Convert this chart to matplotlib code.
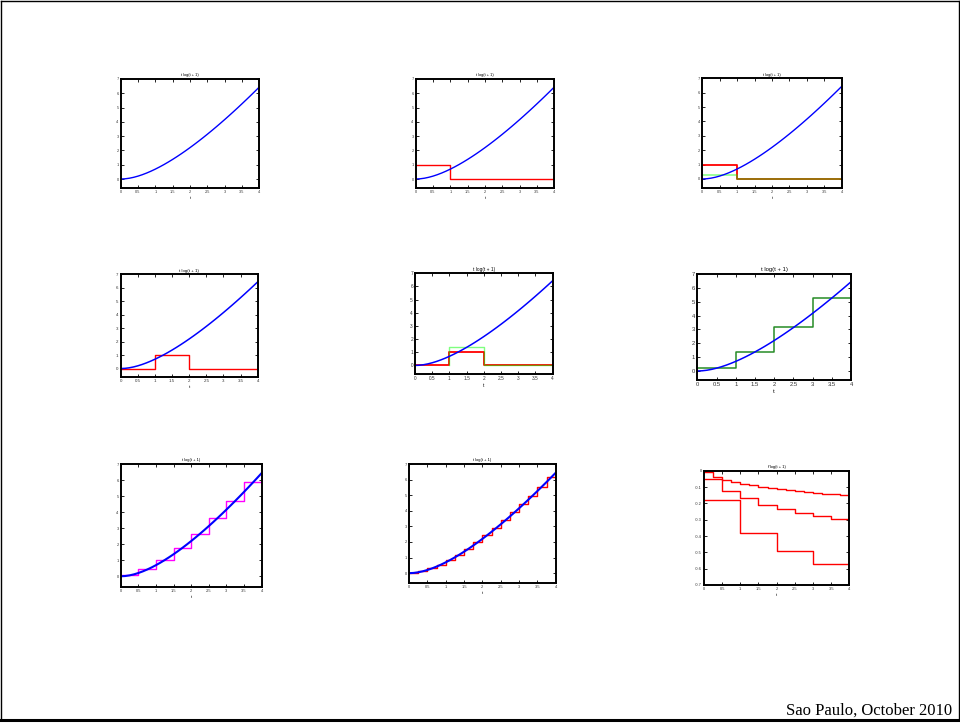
import matplotlib
matplotlib.use("Agg")
import matplotlib.pyplot as plt
from matplotlib.lines import Line2D

# ---------------- data ----------------
curve_t = [0, 0.125, 0.25, 0.375, 0.5, 0.625, 0.75, 0.875, 1, 1.125, 1.25, 1.375,
           1.5, 1.625, 1.75, 1.875, 2, 2.125, 2.25, 2.375, 2.5, 2.625, 2.75, 2.875,
           3, 3.125, 3.25, 3.375, 3.5, 3.625, 3.75, 3.875, 4]
curve_y = [0.0, 0.0147, 0.0558, 0.1194, 0.2027, 0.3034, 0.4197, 0.5500, 0.6931,
           0.8480, 1.0137, 1.1894, 1.3744, 1.5683, 1.7703, 1.9801, 2.1972, 2.4213,
           2.6520, 2.8889, 3.1319, 3.3806, 3.6348, 3.8943, 4.1589, 4.4283, 4.7025,
           4.9812, 5.2643, 5.5516, 5.8430, 6.1385, 6.4378]

p2_red_edges = [0, 1, 4]
p2_red_vals = [1, 0]

p3_green_edges = [0, 1, 4]
p3_green_vals = [0.25, 0]

p4_red_edges = [0, 1, 2, 4]
p4_red_vals = [0, 1, 0]

p5_green_edges = [1, 2, 4]
p5_green_vals = [1.40, 0]

p6_green_edges = [0, 1, 2, 3, 4]
p6_green_vals = [0.25, 1.40, 3.15, 5.28]

p7_edges = [0, 0.5, 1, 1.5, 2, 2.5, 3, 3.5, 4]
p7_vals = [0.07, 0.43, 1.02, 1.78, 2.66, 3.64, 4.71, 5.85]

p8_edges = [0, 0.25, 0.5, 0.75, 1, 1.25, 1.5, 1.75, 2, 2.25, 2.5, 2.75, 3,
            3.25, 3.5, 3.75, 4]
p8_vals = [0.02, 0.12, 0.31, 0.55, 0.85, 1.19, 1.57, 1.98, 2.42, 2.89, 3.38,
           3.90, 4.43, 4.98, 5.55, 6.14]

p9_a_edges = [0, 1, 2, 3, 4]
p9_a_vals = [-0.178, -0.379, -0.493, -0.573]
p9_b_edges = [0, 0.5, 1, 1.5, 2, 2.5, 3, 3.5, 4]
p9_b_vals = [-0.051, -0.125, -0.168, -0.207, -0.233, -0.258, -0.276, -0.295]
p9_c_edges = p8_edges
p9_c_vals = [-0.010, -0.039, -0.055, -0.070, -0.080, -0.090, -0.100, -0.108,
             -0.115, -0.121, -0.127, -0.133, -0.137, -0.141, -0.145, -0.149]

x_ticks = [0, 0.5, 1, 1.5, 2, 2.5, 3, 3.5, 4]
x_ticklabels = ["0", "0.5", "1", "1.5", "2", "2.5", "3", "3.5", "4"]
y_ticks = [0, 1, 2, 3, 4, 5, 6, 7]
y9_ticks = [0, -0.1, -0.2, -0.3, -0.4, -0.5, -0.6, -0.7]
y9_ticklabels = ["0", "-0.1", "-0.2", "-0.3", "-0.4", "-0.5", "-0.6", "-0.7"]

title_main = "t log(t + 1)"
title_err = "f'log(t + 1)"
footer = "Sao Paulo, October 2010"

# ---------------- figure ----------------
W, H = 960, 723
fig = plt.figure(figsize=(W / 100, H / 100), dpi=100)
plt.rcParams['font.family'] = ['Liberation Sans', 'DejaVu Sans']

BLUE = (0, 0, 1)
RED = (1, 0, 0)
GREEN = (0, 1, 0)
DKGREEN = (0.15, 0.55, 0.15)
MAGENTA = (1, 0, 1)


def make_ax(l, t, r, b, fs):
    ax = fig.add_axes([l / W, (H - b) / H, (r - l) / W, (b - t) / H])
    ax.set_xlim(0, 4)
    ax.set_xticks(x_ticks)
    ax.set_xticklabels(x_ticklabels)
    ax.tick_params(direction='in', top=True, right=True, length=2, width=0.6,
                   labelsize=fs, pad=1.5, labelcolor='#333333')
    for s in ax.spines.values():
        s.set_linewidth(1.4)
    ax.set_xlabel("t", fontsize=fs, labelpad=1.5)
    return ax


def main_ax(l, t, r, b, fs):
    ax = make_ax(l, t, r, b, fs)
    ax.set_ylim(-0.65, 7)
    ax.set_yticks(y_ticks)
    ax.set_title(title_main, fontsize=fs, pad=2)
    return ax


def steps(ax, edges, vals, color, lw=1.0, alpha=1.0, start_zero=False):
    xs = list(edges)
    ys = list(vals) + [vals[-1]]
    if start_zero:
        xs = [edges[0]] + xs
        ys = [0] + ys
    ax.step(xs, ys, where='post', color=color, lw=lw, alpha=alpha)


def curve(ax, lw=1.0):
    ax.plot(curve_t, curve_y, color=BLUE, lw=lw)


# Row 1
ax1 = main_ax(120.7, 79, 259.3, 188.3, 2.8)
curve(ax1)

ax2 = main_ax(415.7, 79, 554.3, 188.3, 2.8)
steps(ax2, p2_red_edges, p2_red_vals, RED)
curve(ax2)

ax3 = main_ax(702.3, 78.3, 841.7, 188.3, 2.8)
steps(ax3, p2_red_edges, p2_red_vals, RED, lw=1.3)
steps(ax3, p3_green_edges, p3_green_vals, GREEN, lw=1.1, alpha=0.5)
curve(ax3)

# Row 2
ax4 = main_ax(120.7, 274.3, 257.7, 377.3, 3.2)
steps(ax4, p4_red_edges, p4_red_vals, RED)
curve(ax4, lw=1.1)

ax5 = main_ax(415, 273.3, 552.7, 374, 3.4)
steps(ax5, p4_red_edges, p4_red_vals, RED, lw=1.3)
steps(ax5, p5_green_edges, p5_green_vals, GREEN, lw=1.0, alpha=0.5,
      start_zero=True)
curve(ax5, lw=1.1)

ax6 = main_ax(697.3, 274, 851, 380, 4.2)
steps(ax6, p6_green_edges, p6_green_vals, DKGREEN, lw=1.1)
curve(ax6, lw=1.1)

# Row 3
ax7 = main_ax(120.7, 464, 261.7, 586.7, 2.9)
steps(ax7, p7_edges, p7_vals, MAGENTA, lw=1.0)
curve(ax7, lw=1.5)

ax8 = main_ax(409, 464, 555.7, 583.3, 2.9)
steps(ax8, p8_edges, p8_vals, RED, lw=1.0)
curve(ax8, lw=1.5)

ax9 = make_ax(704, 470.7, 849.3, 585, 2.9)
ax9.set_ylim(-0.7, 0)
ax9.set_yticks(y9_ticks)
ax9.set_yticklabels(y9_ticklabels)
ax9.set_title(title_err, fontsize=2.9, pad=2)
steps(ax9, p9_a_edges, p9_a_vals, RED, lw=1.0)
steps(ax9, p9_b_edges, p9_b_vals, RED, lw=1.0)
steps(ax9, p9_c_edges, p9_c_vals, RED, lw=1.0)

# page frame
fig.add_artist(Line2D([1 / W, 1 / W], [(H - 1) / H, (H - 720) / H], color='black', lw=1.0))
fig.add_artist(Line2D([958.5 / W, 958.5 / W], [(H - 1) / H, (H - 720) / H], color='black', lw=1.0))
fig.add_artist(Line2D([1 / W, 958.5 / W], [(H - 1) / H, (H - 1) / H], color='black', lw=1.0))
fig.add_artist(Line2D([1 / W, 958.5 / W], [(H - 720) / H, (H - 720) / H], color='black', lw=2.2))

fig.text(952 / W, (H - 715) / H, footer, ha='right', va='baseline',
         fontsize=12, family=['Liberation Serif', 'DejaVu Serif'])

fig.savefig("out.png", dpi=100)
